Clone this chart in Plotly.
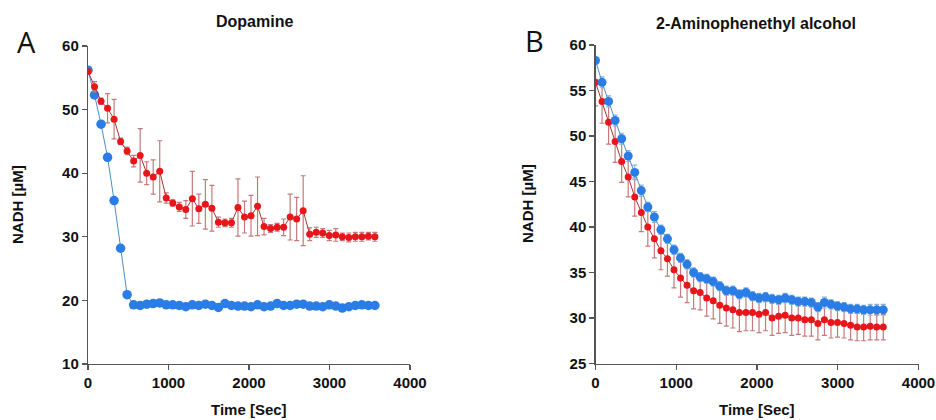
import plotly.graph_objects as go

W, H = 936, 420

time_s = [0, 81, 162, 243, 324, 405, 486, 567, 648, 729, 810, 891, 972, 1053, 1134,
          1215, 1296, 1377, 1458, 1539, 1620, 1701, 1782, 1863, 1944, 2025, 2106, 2187,
          2268, 2349, 2430, 2511, 2592, 2673, 2754, 2835, 2916, 2997, 3078, 3159, 3240,
          3321, 3402, 3483, 3564]

# Panel A - Dopamine
dopa_red = [56.0, 53.6, 51.3, 50.2, 48.5, 45.0, 43.5, 41.9, 42.8, 40.0, 39.4, 40.3, 36.1,
            35.3, 34.7, 34.3, 36.0, 34.4, 35.1, 34.5, 32.3, 32.2, 32.2, 34.6, 33.1, 33.3,
            34.8, 31.6, 31.3, 31.5, 31.5, 33.1, 32.8, 34.1, 30.4, 30.7, 30.6, 30.2, 30.3,
            30.0, 29.9, 30.0, 30.0, 30.1, 30.0]
dopa_red_err = [0.3, 0.8, 0.5, 2.3, 3.1, 0.5, 0.6, 0.9, 4.2, 1.8, 2.7, 4.8, 0.8, 0.5, 0.7,
                1.4, 4.3, 2.3, 3.9, 3.6, 0.8, 0.6, 0.7, 4.5, 2.5, 3.2, 4.6, 1.3, 0.6, 0.6,
                1.3, 3.6, 3.4, 5.5, 1.0, 0.8, 0.7, 0.8, 1.0, 0.6, 0.7, 0.7, 0.7, 0.6, 0.7]
dopa_blue = [56.2, 52.3, 47.7, 42.5, 35.7, 28.2, 20.9, 19.3, 19.2, 19.4, 19.5, 19.6, 19.3,
             19.3, 19.2, 19.0, 19.3, 19.2, 19.4, 19.2, 18.9, 19.5, 19.2, 19.1, 19.1, 19.0,
             19.3, 19.0, 19.1, 19.5, 19.2, 19.2, 19.4, 19.4, 19.1, 19.1, 19.0, 19.3, 19.1,
             18.8, 19.0, 19.2, 19.3, 19.2, 19.2]

# Panel B - 2-Aminophenethyl alcohol
amino_red = [55.9, 53.8, 51.5, 49.4, 47.2, 45.5, 43.3, 41.6, 40.0, 38.7, 37.4, 36.5, 35.3,
             34.4, 33.6, 33.0, 32.8, 32.2, 31.9, 31.4, 31.1, 30.9, 30.6, 30.6, 30.6, 30.4,
             30.6, 30.0, 30.2, 30.3, 30.0, 30.0, 29.8, 29.8, 29.4, 29.8, 29.5, 29.5, 29.4,
             29.2, 29.0, 29.0, 29.1, 29.0, 29.0]
amino_red_err = [2.6, 2.4, 2.4, 2.3, 2.3, 2.2, 2.1, 2.1, 2.1, 2.1, 2.1, 1.9, 2.0, 2.1, 1.9,
                 2.0, 1.9, 2.0, 2.0, 2.0, 2.0, 2.0, 2.1, 2.0, 2.0, 2.0, 2.0, 1.9, 1.9, 1.9,
                 1.9, 1.8, 1.8, 1.8, 1.8, 1.7, 1.7, 1.6, 1.6, 1.6, 1.5, 1.5, 1.5, 1.4, 1.4]
amino_blue = [58.3, 55.9, 53.8, 51.7, 49.7, 47.8, 46.0, 44.0, 42.2, 41.1, 39.7, 38.7, 37.5,
              36.6, 35.9, 35.0, 34.5, 34.3, 34.0, 33.5, 33.0, 33.0, 32.6, 32.8, 32.4, 32.2,
              32.3, 32.1, 32.0, 32.2, 32.0, 31.8, 31.8, 31.7, 31.2, 31.7, 31.5, 31.3, 31.2,
              31.0, 31.0, 30.9, 30.9, 30.9, 30.9]
amino_blue_err = [0.3, 0.6, 0.6, 0.6, 0.6, 0.6, 0.8, 0.6, 0.5, 0.6, 0.5, 0.5, 0.5, 0.5, 0.5,
                  0.5, 0.5, 0.5, 0.5, 0.5, 0.5, 0.5, 0.5, 0.5, 0.5, 0.5, 0.5, 0.5, 0.5, 0.5,
                  0.5, 0.5, 0.5, 0.5, 0.5, 0.6, 0.5, 0.5, 0.5, 0.5, 0.5, 0.5, 0.6, 0.6, 0.6]

x_ticks = [0, 1000, 2000, 3000, 4000]
yA_ticks = [10, 20, 30, 40, 50, 60]
yB_ticks = [25, 30, 35, 40, 45, 50, 55, 60]

RED = "#e8161b"
RED_LINE = "#a83232"
RED_ERR = "#c47a7a"
BLUE = "#2a7de6"
BLUE_LINE = "#4a8fc2"
BLUE_ERR = "#86b6dc"
AX = "#555555"

fig = go.Figure()

# Panel A: blue first (behind), red on top
fig.add_trace(go.Scatter(x=time_s, y=dopa_blue, mode="lines+markers",
                         line=dict(color=BLUE_LINE, width=1),
                         marker=dict(color=BLUE, size=9.5),
                         xaxis="x", yaxis="y", showlegend=False))
fig.add_trace(go.Scatter(x=time_s, y=dopa_red, mode="lines+markers",
                         line=dict(color=RED_LINE, width=1),
                         marker=dict(color=RED, size=7),
                         error_y=dict(type="data", array=dopa_red_err, color=RED_ERR,
                                      thickness=1.2, width=2.5),
                         xaxis="x", yaxis="y", showlegend=False))

# Panel B: red first, blue on top
fig.add_trace(go.Scatter(x=time_s, y=amino_red, mode="lines+markers",
                         line=dict(color=RED_LINE, width=1),
                         marker=dict(color=RED, size=7),
                         error_y=dict(type="data", array=amino_red_err, color=RED_ERR,
                                      thickness=1.2, width=2.5),
                         xaxis="x2", yaxis="y2", showlegend=False))
fig.add_trace(go.Scatter(x=time_s, y=amino_blue, mode="lines+markers",
                         line=dict(color=BLUE_LINE, width=1),
                         marker=dict(color=BLUE, size=9),
                         error_y=dict(type="data", array=amino_blue_err, color=BLUE_ERR,
                                      thickness=1.2, width=2.5),
                         xaxis="x2", yaxis="y2", showlegend=False))

tickfont = dict(family="Liberation Sans, Arial, sans-serif", size=15, color="#111111",
                weight="bold")

def px_x(p):
    return p / W

def px_y(p):
    return 1 - p / H

common = dict(showline=True, linecolor=AX, linewidth=1.2, ticks="outside", ticklen=5,
              tickcolor=AX, tickwidth=1.2, showgrid=False, zeroline=False,
              tickfont=tickfont, fixedrange=True, automargin=False)

fig.update_layout(
    width=W, height=H,
    margin=dict(l=0, r=0, t=0, b=0, pad=0, autoexpand=False),
    paper_bgcolor="white", plot_bgcolor="white",
    xaxis=dict(domain=[px_x(88), px_x(410)], range=[0, 4000], tickvals=x_ticks,
               anchor="y", **common),
    yaxis=dict(domain=[px_y(364), px_y(46)], range=[10, 60], tickvals=yA_ticks,
               anchor="x", **common),
    xaxis2=dict(domain=[px_x(595.5), px_x(918.5)], range=[0, 4000], tickvals=x_ticks,
                anchor="y2", **common),
    yaxis2=dict(domain=[px_y(363.5), px_y(45)], range=[25, 60], tickvals=yB_ticks,
                anchor="x2", **common),
)

lab = dict(family="Liberation Sans, Arial, sans-serif", size=15, color="#111111",
           weight="bold")
ann = []
def add(text, x, y, font, angle=0):
    ann.append(dict(text=text, x=px_x(x), y=px_y(y), xref="paper", yref="paper",
                    showarrow=False, xanchor="center", yanchor="middle",
                    font=font, textangle=angle))

add("Dopamine", 255, 21, dict(family="Liberation Sans, Arial, sans-serif", size=16,
                                color="#111111", weight="bold"))
add("2-Aminophenethyl alcohol", 756, 23, dict(family="Liberation Sans, Arial, sans-serif",
                                                 size=16, color="#111111", weight="bold"))
add("A", 26, 42, dict(family="Open Sans, sans-serif", size=29, color="#111111"))
add("B", 534, 40, dict(family="Open Sans, sans-serif", size=29, color="#111111"))
add("Time [Sec]", 249, 409, lab)
add("Time [Sec]", 757, 409, lab)
add("NADH [µM]", 17, 205, lab, -90)
add("NADH [µM]", 527, 204, lab, -90)
fig.update_layout(annotations=ann, hovermode=False)

fig.write_html("out.html",
               config={"displayModeBar": False, "staticPlot": True},
               post_script="document.body.style.margin='0';document.body.style.padding='0';"
                           "document.body.style.overflow='hidden';")
